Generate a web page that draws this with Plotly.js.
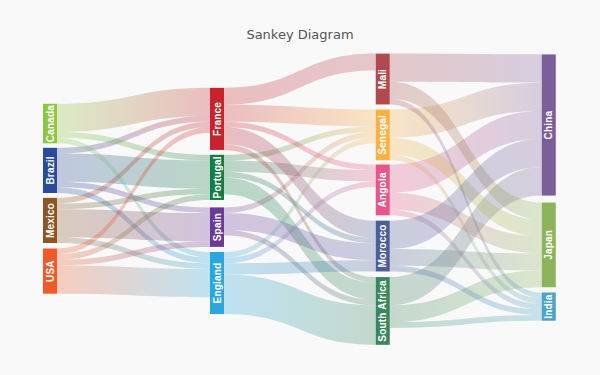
<!DOCTYPE html>
<html>
<head>
<meta charset="utf-8">
<script src="https://cdn.plot.ly/plotly-3.0.1.min.js"></script>
<style>
html,body{margin:0;padding:0;background:#f9f9f9;}
#chart{width:600px;height:375px;}
</style>
</head>
<body>
<div id="chart"></div>
<script>
// Node names and colours
const nodeNames = ['Canada','Brazil','Mexico','USA','France','Portugal','Spain','England','Mali','Senegal','Angola','Morocco','South Africa','China','Japan','India'];
const nodeColors = ['#8dc63f','#2b4a9a','#8b5524','#f05a28','#c8232c','#137d45','#6a3a96','#2aa7df','#b04a4e','#fbb040','#e6568a','#4d5e99','#3b875d','#7c5e9a','#8db45a','#4aa3c9'];

// Flows
const linkSource = ['Brazil','Brazil','Brazil','Brazil','Canada','Canada','Canada','Mexico','Mexico','Mexico','Mexico','USA','USA','USA','USA',
  'Portugal','Portugal','Portugal','Portugal','France','France','France','France','France','Spain','Spain','Spain','England','England','England','England',
  'South Africa','South Africa','South Africa','Angola','Angola','Angola','Senegal','Senegal','Senegal','Mali','Mali','Mali','Morocco','Morocco','Morocco'];
const linkTarget = ['Portugal','France','Spain','England','Portugal','France','England','Portugal','France','Spain','England','Portugal','France','Spain','England',
  'Angola','Senegal','Morocco','South Africa','Angola','Senegal','Mali','Morocco','South Africa','Senegal','Morocco','South Africa','Angola','Senegal','Morocco','South Africa',
  'China','India','Japan','China','India','Japan','China','India','Japan','China','India','Japan','China','India','Japan'];
const linkValue = [5,1,1,1,1,5,1,1,1,5,1,1,1,1,5,
  2,1,1,3,1,3,3,3,1,1,3,1,1,1,2,7,
  5,1,3,5,1,3,5,1,3,5,1,3,5,1,3];

// Layout: node centre positions (fraction of the sankey domain)
const nodeX = [0.0136,0.0136,0.0136,0.0136,0.3385,0.3385,0.3385,0.3385,0.661,0.661,0.661,0.661,0.661,0.984,0.984,0.984];
const nodeY = [0.239,0.400,0.572,0.746,0.223,0.424,0.595,0.787,0.086,0.278,0.467,0.660,0.883,0.244,0.656,0.868];

const idx = n => nodeNames.indexOf(n);
const src = linkSource.map(idx), tgt = linkTarget.map(idx);

function rgba(hex,a){const v=parseInt(hex.slice(1),16);return 'rgba('+(v>>16)+','+((v>>8)&255)+','+(v&255)+','+a+')';}
const linkColors = src.map((s,i)=>rgba(nodeColors[s],0.3));

const data = [{
  type:'sankey',
  orientation:'h',
  arrangement:'fixed',
  node:{label:nodeNames,color:nodeColors,pad:5,thickness:14,line:{width:0},x:nodeX,y:nodeY},
  link:{source:src,target:tgt,value:linkValue,color:linkColors,line:{width:0}},
  textfont:{color:'rgba(0,0,0,0)',size:10}
}];
const layout = {
  width:600,height:375,
  paper_bgcolor:'#f9f9f9',plot_bgcolor:'#f9f9f9',
  margin:{l:43,r:43,t:54,b:30},
  title:{text:'Sankey Diagram',x:0.5,xanchor:'center',y:0.907,yanchor:'middle',font:{family:'DejaVu Sans, Verdana, sans-serif',size:13,color:'#555'}},
  font:{family:'Liberation Sans, Arial, sans-serif'}
};
const gd=document.getElementById('chart');
Plotly.newPlot(gd,data,layout,{staticPlot:true,displayModeBar:false}).then(()=>{
  const svgns='http://www.w3.org/2000/svg';
  const defs=gd.querySelector('.main-svg defs')||gd.querySelector('.main-svg').appendChild(document.createElementNS(svgns,'defs'));
  // gradient links
  gd.querySelectorAll('.sankey-link').forEach((p,i)=>{
    const d=p.__data__;
    let s=src[i],t=tgt[i];
    if(d&&d.link&&d.link.source&&d.link.target){
      const sl=d.link.source.label, tl=d.link.target.label;
      if(nodeNames.indexOf(sl)>=0){s=idx(sl);t=idx(tl);}
      else if(typeof d.link.source.pointNumber==='number'){s=d.link.source.pointNumber;t=d.link.target.pointNumber;}
    }
    const g=document.createElementNS(svgns,'linearGradient');
    g.setAttribute('id','lg'+i);
    g.setAttribute('x1','0');g.setAttribute('x2','1');g.setAttribute('y1','0');g.setAttribute('y2','0');
    [[0,nodeColors[s]],[1,nodeColors[t]]].forEach(([o,c])=>{
      const st=document.createElementNS(svgns,'stop');
      st.setAttribute('offset',o);st.setAttribute('stop-color',c);st.setAttribute('stop-opacity','0.28');
      g.appendChild(st);
    });
    defs.appendChild(g);
    p.style.fill='url(#lg'+i+')';
    p.style.fillOpacity='1';
  });
  // vertical labels inside nodes
  gd.querySelectorAll('.sankey-node').forEach((n,i)=>{
    const r=n.querySelector('.node-rect');
    const d=n.__data__;
    let lab=nodeNames[i];
    if(d&&d.node&&typeof d.node.label==='string')lab=d.node.label;
    const b=r.getBBox();
    const tx=document.createElementNS(svgns,'text');
    tx.textContent=lab;
    tx.setAttribute('transform','translate('+(b.x+b.width/2)+','+(b.y+b.height/2)+') rotate(-90)');
    tx.setAttribute('text-anchor','middle');
    tx.setAttribute('dy','0.36em');
    tx.setAttribute('style','font-family:Liberation Sans, Arial, sans-serif;font-size:10px;font-weight:bold;fill:#fff;letter-spacing:0.2px');
    n.appendChild(tx);
  });
});
</script>
</body>
</html>
